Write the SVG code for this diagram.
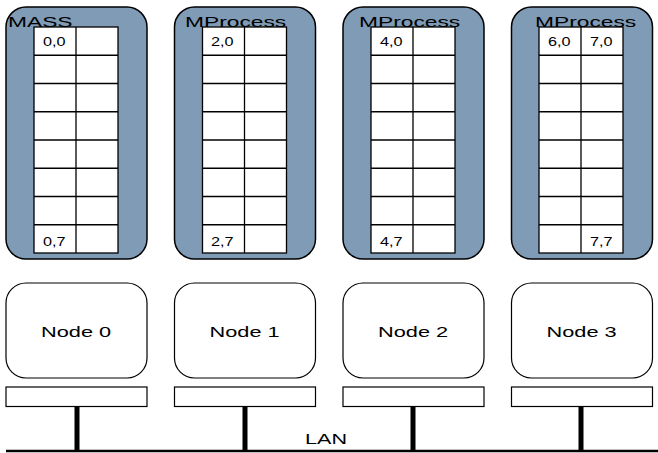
<svg xmlns="http://www.w3.org/2000/svg" width="658" height="453" viewBox="0 0 658 453">
  <style>
    .proc { fill: #7f9bb5; stroke: #000; stroke-width: 1.5; }
    .cell { fill: #fff; stroke: #000; stroke-width: 1.3; }
    .node { fill: #fff; stroke: #000; stroke-width: 1.2; }
    .nic { fill: #fff; stroke: #000; stroke-width: 1.2; }
    .title { font-family: "Liberation Sans", Arial, sans-serif; font-size: 15px; fill: #000; }
    .idx { font-family: "Liberation Sans", Arial, sans-serif; font-size: 12.5px; fill: #000; }
    .lbl { font-family: "Liberation Sans", Arial, sans-serif; font-size: 15px; fill: #000; }
    .tap { stroke: #000; stroke-width: 5; }
    .bus { stroke: #000; stroke-width: 2.5; }
  </style>
  <defs>
    <!-- 2 x 8 grid of place cells -->
    <g id="grid">
      <rect class="cell" x="0" y="0" width="84" height="226"/>
      <line class="cell" x1="42" y1="0" x2="42" y2="226"/>
      <line class="cell" x1="0" y1="28.25" x2="84" y2="28.25"/>
      <line class="cell" x1="0" y1="56.5" x2="84" y2="56.5"/>
      <line class="cell" x1="0" y1="84.75" x2="84" y2="84.75"/>
      <line class="cell" x1="0" y1="113" x2="84" y2="113"/>
      <line class="cell" x1="0" y1="141.25" x2="84" y2="141.25"/>
      <line class="cell" x1="0" y1="169.5" x2="84" y2="169.5"/>
      <line class="cell" x1="0" y1="197.75" x2="84" y2="197.75"/>
    </g>
  </defs>

  <!-- Process containers (text is drawn horizontally widened) -->
  <g id="proc0">
    <rect class="proc" x="6" y="7" width="141" height="252" rx="20" ry="20"/>
    <use href="#grid" x="34" y="27"/>
    <text class="title" transform="translate(8,27) scale(1.52,1)">MASS</text>
    <text class="idx" transform="translate(43,46) scale(1.3,1)">0,0</text>
    <text class="idx" transform="translate(43,246) scale(1.3,1)">0,7</text>
  </g>
  <g id="proc1">
    <rect class="proc" x="174.5" y="7" width="141" height="252" rx="20" ry="20"/>
    <use href="#grid" x="202.5" y="27"/>
    <text class="title" transform="translate(185,27) scale(1.52,1)">MProcess</text>
    <text class="idx" transform="translate(211,46) scale(1.3,1)">2,0</text>
    <text class="idx" transform="translate(211,246) scale(1.3,1)">2,7</text>
  </g>
  <g id="proc2">
    <rect class="proc" x="343" y="7" width="141" height="252" rx="20" ry="20"/>
    <use href="#grid" x="371" y="27"/>
    <text class="title" transform="translate(359,27) scale(1.52,1)">MProcess</text>
    <text class="idx" transform="translate(380,46) scale(1.3,1)">4,0</text>
    <text class="idx" transform="translate(380,246) scale(1.3,1)">4,7</text>
  </g>
  <g id="proc3">
    <rect class="proc" x="511.5" y="7" width="141" height="252" rx="20" ry="20"/>
    <use href="#grid" x="539" y="27"/>
    <text class="title" transform="translate(535,27) scale(1.52,1)">MProcess</text>
    <text class="idx" transform="translate(548,46) scale(1.3,1)">6,0</text>
    <text class="idx" transform="translate(590,46) scale(1.3,1)">7,0</text>
    <text class="idx" transform="translate(590,246) scale(1.3,1)">7,7</text>
  </g>

  <!-- Compute nodes -->
  <g id="node0">
    <rect class="node" x="6" y="283" width="141" height="95" rx="20" ry="20"/>
    <text class="lbl" transform="translate(41,337) scale(1.45,1)">Node 0</text>
  </g>
  <g id="node1">
    <rect class="node" x="174.5" y="283" width="141" height="95" rx="20" ry="20"/>
    <text class="lbl" transform="translate(209.5,337) scale(1.45,1)">Node 1</text>
  </g>
  <g id="node2">
    <rect class="node" x="343" y="283" width="141" height="95" rx="20" ry="20"/>
    <text class="lbl" transform="translate(378,337) scale(1.45,1)">Node 2</text>
  </g>
  <g id="node3">
    <rect class="node" x="511.5" y="283" width="141" height="95" rx="20" ry="20"/>
    <text class="lbl" transform="translate(546.5,337) scale(1.45,1)">Node 3</text>
  </g>

  <!-- Network interfaces -->
  <g id="nic0"><rect class="nic" x="6" y="387" width="141" height="19.5"/></g>
  <g id="nic1"><rect class="nic" x="174.5" y="387" width="141" height="19.5"/></g>
  <g id="nic2"><rect class="nic" x="343" y="387" width="141" height="19.5"/></g>
  <g id="nic3"><rect class="nic" x="511.5" y="387" width="141" height="19.5"/></g>

  <!-- LAN bus and taps -->
  <g id="connectors">
    <line class="bus" x1="6" y1="451" x2="658" y2="451"/>
    <line class="tap" x1="77" y1="406.5" x2="77" y2="451"/>
    <line class="tap" x1="245" y1="406.5" x2="245" y2="451"/>
    <line class="tap" x1="413" y1="406.5" x2="413" y2="451"/>
    <line class="tap" x1="581" y1="406.5" x2="581" y2="451"/>
  </g>
  <g id="lan">
    <text class="lbl" transform="translate(305,444) scale(1.44,1)">LAN</text>
  </g>
</svg>
